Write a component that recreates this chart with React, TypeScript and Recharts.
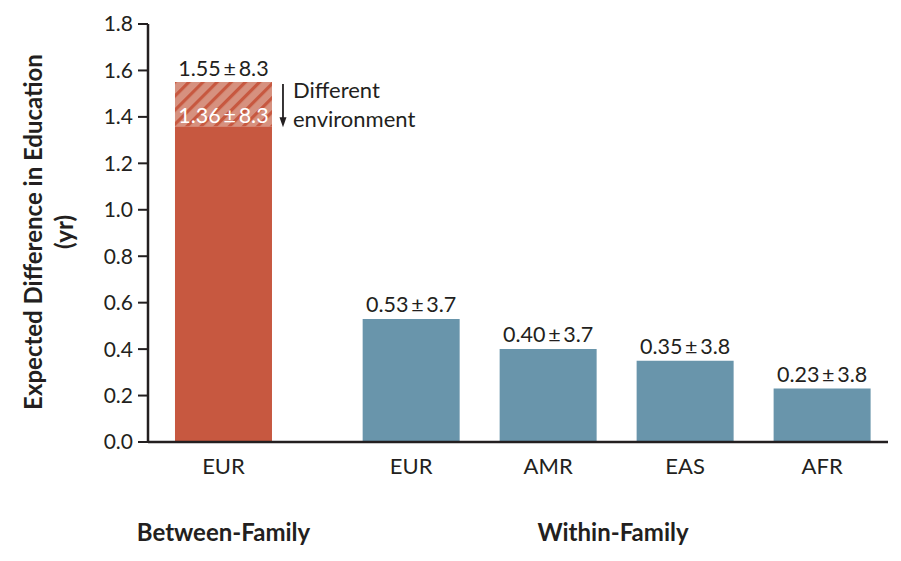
import { Bar, BarChart, Cell, LabelList, XAxis, YAxis } from "recharts";

const categories = ["EUR", "EUR", "AMR", "EAS", "AFR"];
const groups = ["Between-Family", "Within-Family", "Within-Family", "Within-Family", "Within-Family"];
const expected = [1.36, 0.53, 0.4, 0.35, 0.23];
const spread = [8.3, 3.7, 3.7, 3.8, 3.8];
const sameEnvironment = [1.55, null, null, null, null];
const yTicks = [0, 0.2, 0.4, 0.6, 0.8, 1.0, 1.2, 1.4, 1.6, 1.8];

const RED = "#c75840";
const BLUE = "#6995ab";
const INK = "#231f20";
const FONT = "Lato, 'Open Sans', sans-serif";
// extra space between the between-family bar and the within-family group
const GROUP_GAP = 0.37;

const data = categories.map((cat, i) => ({
  x: i + (i > 0 ? GROUP_GAP : 0),
  cat,
  group: groups[i],
  value: expected[i],
  extra: sameEnvironment[i] != null ? +(sameEnvironment[i]! - expected[i]).toFixed(2) : 0,
  sd: spread[i],
  total: sameEnvironment[i],
}));

const fmt = (v: number, sd: number) => `${v.toFixed(2)}\u2009±\u2009${sd.toFixed(1)}`;

function ValueLabel(props: any) {
  const { x, y, width, index } = props;
  const d = data[index];
  if (d.total != null) {
    return (
      <text x={x + width / 2} y={y - 3} textAnchor="middle" fill="#fff" fontSize={21.5} fontFamily={FONT}>
        {fmt(d.value, d.sd)}
      </text>
    );
  }
  return (
    <text x={x + width / 2} y={y - 7} textAnchor="middle" fill={INK} fontSize={21.5} fontFamily={FONT}>
      {fmt(d.value, d.sd)}
    </text>
  );
}

function ExtraLabel(props: any) {
  const { x, y, width, height, index } = props;
  const d = data[index];
  if (d.total == null) return null;
  const ax = x + width + 11;
  return (
    <g>
      <text x={x + width / 2} y={y - 6} textAnchor="middle" fill={INK} fontSize={21.5} fontFamily={FONT}>
        {fmt(d.total, d.sd)}
      </text>
      <line x1={ax} y1={y + 2} x2={ax} y2={y + height - 6} stroke={INK} strokeWidth={1.8} />
      <path d={`M${ax - 3.5},${y + height - 9} L${ax + 3.5},${y + height - 9} L${ax},${y + height + 1} Z`} fill={INK} />
      <text x={ax + 10} y={y + 16} fill={INK} fontSize={22} fontFamily={FONT}>
        Different
      </text>
      <text x={ax + 10} y={y + height + 1} fill={INK} fontSize={22} fontFamily={FONT}>
        environment
      </text>
    </g>
  );
}

export default function App() {
  const xs = data.map((d) => d.x);
  return (
    <div style={{ position: "absolute", left: 0, top: 0, background: "#fff" }}>
      <BarChart
        width={901}
        height={561}
        data={data}
        margin={{ top: 24, right: 13, bottom: 79, left: 88 }}
        style={{ fontFamily: FONT }}
      >
        <defs>
          <pattern id="hatch" width="10" height="10" patternUnits="userSpaceOnUse" patternTransform="rotate(45)">
            <rect width="10" height="10" fill="#d6917f" />
            <rect width="3.2" height="10" fill={RED} />
          </pattern>
        </defs>
        <XAxis
          dataKey="x"
          type="number"
          domain={[-0.551, 4.851]}
          allowDataOverflow
          ticks={xs}
          tickFormatter={(v: number) => data.find((d) => Math.abs(d.x - v) < 1e-6)?.cat ?? ""}
          axisLine={{ stroke: INK, strokeWidth: 2.3 }}
          tickLine={false}
          tickMargin={10}
          height={40}
          tick={{ fill: INK, fontSize: 22, fontFamily: FONT }}
        />
        <YAxis
          domain={[0, 1.8]}
          ticks={yTicks}
          tickFormatter={(v: number) => v.toFixed(1)}
          axisLine={{ stroke: INK, strokeWidth: 2.5 }}
          tickLine={{ stroke: INK, strokeWidth: 2 }}
          tickSize={10}
          tickMargin={5}
          width={60}
          tick={{ fill: INK, fontSize: 21, fontFamily: FONT }}
          interval={0}
        />
        <Bar dataKey="value" stackId="a" barSize={97} isAnimationActive={false}>
          {data.map((d, i) => (
            <Cell key={i} fill={d.group === "Between-Family" ? RED : BLUE} />
          ))}
          <LabelList dataKey="value" content={<ValueLabel />} />
        </Bar>
        <Bar dataKey="extra" stackId="a" barSize={97} fill="url(#hatch)" isAnimationActive={false}>
          <LabelList dataKey="extra" content={<ExtraLabel />} />
        </Bar>
        <text
          transform="translate(42,232) rotate(-90)"
          textAnchor="middle"
          fill={INK}
          fontSize={24}
          fontWeight={700}
          fontFamily={FONT}
        >
          Expected Difference in Education
        </text>
        <text
          transform="translate(73,232) rotate(-90)"
          textAnchor="middle"
          fill={INK}
          fontSize={24}
          fontWeight={700}
          fontFamily={FONT}
        >
          (yr)
        </text>
        <text x={223.5} y={541} textAnchor="middle" fill={INK} fontSize={24} fontWeight={700} fontFamily={FONT}>
          {groups[0]}
        </text>
        <text x={613} y={541} textAnchor="middle" fill={INK} fontSize={24} fontWeight={700} fontFamily={FONT}>
          {groups[1]}
        </text>
      </BarChart>
    </div>
  );
}
